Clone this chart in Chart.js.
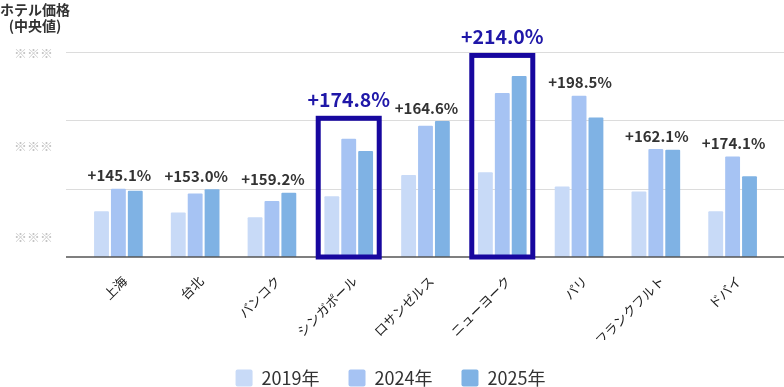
<!DOCTYPE html>
<html><head><meta charset="utf-8">
<script src="https://cdn.jsdelivr.net/npm/chart.js@4/dist/chart.umd.min.js"></script>
<style>html,body{margin:0;padding:0;background:#fff}#wrap{width:784px;height:387px;position:relative}</style>
</head><body><div id="wrap"><canvas id="c"></canvas></div>
<script>
const categories = ['上海','台北','バンコク','シンガポール','ロサンゼルス','ニューヨーク','パリ','フランクフルト','ドバイ'];
const seriesNames = ['2019年','2024年','2025年'];
const values2019 = [67, 65, 58, 89, 120, 124, 103, 96, 67];
const values2024 = [100, 93, 82, 173, 192, 240, 236, 158, 147];
const values2025 = [97, 99, 94, 155, 199, 265, 204, 157, 118];
const growthLabels = ['+145.1%','+153.0%','+159.2%','+174.8%','+164.6%','+214.0%','+198.5%','+162.1%','+174.1%'];
const highlighted = ['シンガポール','ニューヨーク'];
const yTickLabels = ['※※※','※※※','※※※'];
const yTickValues = [29, 162, 298];
const axisTitle = ['ホテル価格','(中央値)'];
const colors = ['#c8daf7','#a6c3f3','#7fb2e4'];
const FONT = '"Noto Sans CJK JP", "Noto Sans", sans-serif';

const decor = {
  id: 'decor',
  afterLayout(chart) {
    if (chart.legend) { chart.legend.left += 5; chart.legend.right += 5; }
  },
  beforeDatasetsDraw(chart) {
    const {ctx, scales: {y}} = chart;
    ctx.save();
    for (let v = 100; v <= y.max; v += 100) {
      const py = Math.round(y.getPixelForValue(v)) + 0.5;
      ctx.strokeStyle = '#dcdcdc'; ctx.lineWidth = 1.2;
      ctx.beginPath(); ctx.moveTo(66, py); ctx.lineTo(784, py); ctx.stroke();
    }
    ctx.restore();
  },
  afterDatasetsDraw(chart) {
    const {ctx, scales: {x, y}} = chart;
    ctx.save();
    const py0 = y.getPixelForValue(0);
    ctx.strokeStyle = '#555'; ctx.lineWidth = 1.5;
    ctx.beginPath(); ctx.moveTo(66, py0); ctx.lineTo(784, py0); ctx.stroke();
    ctx.textAlign = 'center'; ctx.textBaseline = 'middle';
    categories.forEach((c, i) => {
      const cx = x.getPixelForValue(i);
      const top = y.getPixelForValue(Math.max(values2019[i], values2024[i], values2025[i]));
      if (highlighted.includes(c)) {
        const lw = 5;
        const bt = top - 23;
        ctx.strokeStyle = '#17079f'; ctx.lineWidth = lw;
        ctx.strokeRect(cx - 33 + lw/2, bt + lw/2, 66 - lw, py0 - bt - lw/2);
        ctx.fillStyle = '#1f17a8';
        ctx.font = 'bold 19.5px ' + FONT;
        ctx.fillText(growthLabels[i], cx, bt - 16);
      } else {
        ctx.fillStyle = '#333';
        ctx.font = 'bold 15px ' + FONT;
        ctx.fillText(growthLabels[i], cx + 1, top - 13);
      }
    });
    ctx.fillStyle = '#333';
    ctx.font = 'bold 14px ' + FONT;
    ctx.fillText(axisTitle[0], 35, 10);
    ctx.fillText(axisTitle[1], 35, 26);
    ctx.restore();
  }
};

new Chart(document.getElementById('c'), {
  type: 'bar',
  data: {
    labels: categories,
    datasets: [values2019, values2024, values2025].map((d, k) => ({
      label: seriesNames[k], data: d, backgroundColor: colors[k],
      borderWidth: 0, borderRadius: 1,
      categoryPercentage: 0.66, barPercentage: 0.88
    }))
  },
  options: {
    responsive: true, maintainAspectRatio: false, animation: false,
    layout: { padding: { top: 52, right: 13, bottom: -10, left: 0 } },
    plugins: {
      tooltip: { enabled: false },
      legend: {
        position: 'bottom',
        labels: {
          boxWidth: 17, boxHeight: 17, padding: 29, color: '#333',
          font: { family: FONT, size: 18 }, useBorderRadius: true, borderRadius: 2
        }
      }
    },
    scales: {
      x: {
        grid: { display: false, drawTicks: false }, border: { display: false },
        ticks: { color: '#222', font: { family: FONT, size: 13 }, minRotation: 45, maxRotation: 45, padding: 16, labelOffset: 6 },
        afterFit: s => { s.height = 83; }
      },
      y: { display: false, min: 0, max: 300 },
      y2: {
        position: 'left', min: 0, max: 300,
        grid: { display: false, drawTicks: false }, border: { display: false },
        afterBuildTicks: ax => { ax.ticks = yTickValues.map(v => ({ value: v })); },
        ticks: { callback: (v, i) => yTickLabels[i], color: '#c4c4c4', font: { family: FONT, size: 13 }, padding: 27 },
        afterFit: ax => { ax.width = 80; }
      }
    }
  },
  plugins: [decor]
});
</script></body></html>
